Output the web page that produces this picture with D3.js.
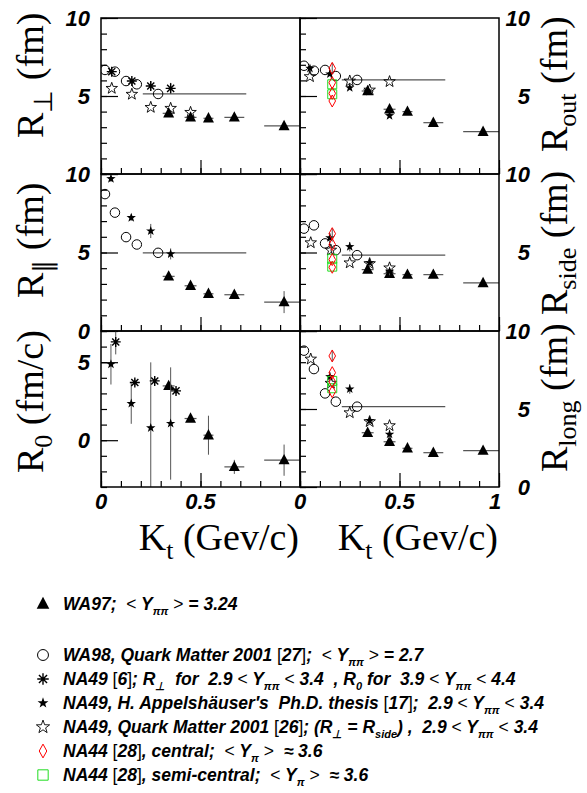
<!DOCTYPE html>
<html>
<head>
<meta charset="utf-8">
<script src="https://cdn.jsdelivr.net/npm/d3@7"></script>
<style>
  body { margin: 0; background: #fff; }
  svg { display: block; }
  text { white-space: pre; }
  .lab { font-family: "Liberation Sans", Arial, sans-serif; font-weight: bold; font-style: italic; font-size: 22px; }
  .ttl { font-family: "Liberation Serif", "Times New Roman", serif; font-size: 38px; }
  .leg { font-family: "Liberation Sans", Arial, sans-serif; font-weight: bold; font-style: italic; font-size: 17.5px; }
</style>
</head>
<body>
<script>
// ---- data ----
// WA97, <Y> = 3.24
var kWA97     = [0.34, 0.45, 0.54, 0.67, 0.92];
var kErrWA97  = [0.03, 0.03, 0.025, 0.05, 0.1];
var wa97Perp  = [3.89, 3.63, 3.57, 3.63, 3.08];
var wa97Par   = [3.48, 2.88, 2.37, 2.31, 1.84];
var wa97ParE  = [0.15, 0.15, 0.15, 0.15, 0.7];
var wa97R0    = [3.48, 1.39, 0.32, -1.71, -1.28];
var wa97R0E   = [0.2, 0.2, 1.25, 0.45, 1.0];
var wa97Out   = [5.32, 4.15, 4.00, 3.29, 2.71];
var wa97Side  = [3.91, 3.65, 3.59, 3.59, 3.06];
var wa97Long  = [3.48, 2.90, 2.48, 2.20, 2.33];

// WA98, QM 2001, last point is a wide kt bin
var kWA98     = [0.02, 0.07, 0.126, 0.18, 0.287];
var kLoWA98   = [null, null, null, null, 0.21];
var kHiWA98   = [null, null, null, null, 0.73];
var wa98Perp  = [6.67, 6.56, 5.96, 5.75, 5.13];
var wa98Par   = [8.72, 7.54, 5.98, 5.51, 4.98];
var wa98Out   = [6.94, 6.62, 6.67, 6.28, 6.03];
var wa98Side  = [6.52, 6.73, 5.58, 5.15, 4.83];
var wa98Long  = [8.74, 7.56, 6.00, 5.47, 5.15];

// NA49 [6] (asterisks)
var kNA49a    = [0.054, 0.155, 0.25, 0.35];
var na49aPerp = [6.56, 5.96, 5.64, 5.49];
var na49aPerpE = [0.2, 0.2, 0.3, 0.35];
var kNA49aR0  = [0.074, 0.17, 0.27, 0.377];
var na49aR0   = [6.3, 3.7, 3.8, 3.16];
var na49aR0E  = [0.8, 0.2, 0.2, 0.2];

// NA49, Appelshauser thesis (filled stars)
var kNA49h     = [0.05, 0.152, 0.25, 0.35];
var na49hPar   = [9.7, 7.22, 6.37, 4.91];
var na49hParE  = [0.2, 0.2, 0.45, 0.35];
var na49hR0    = [4.87, 2.35, 0.79, 1.07];
var na49hR0E   = [1.3, 1.3, 4.2, 3.6];
var kNA49hOut  = [0.05, 0.15, 0.25, 0.34, 0.45];
var na49hOut   = [6.77, 6.41, 5.53, 5.32, 3.74];
var kNA49hSL   = [0.15, 0.25, 0.35, 0.45];
var na49hSide  = [5.94, 5.37, 4.34, 3.80];
var na49hLong  = [7.07, 6.28, 4.25, 3.38];
var na49hSLE   = [0.3, 0.3, 0.25, 0.25];

// NA49, QM 2001 (open stars)
var kNA49q     = [0.054, 0.155, 0.25, 0.35, 0.45];
var na49qPerp  = [5.49, 5.11, 4.27, 4.21, 3.95];
var kNA49qOut  = [0.05, 0.25, 0.35, 0.45];
var na49qOut   = [6.24, 5.96, 5.38, 5.92];
var na49qSide  = [5.62, 5.15, 4.34, 4.29, 4.02];
var na49qLong  = [8.2, 6.65, 4.76, 4.19, 3.93];

// NA44 central (diamonds) and semi-central (squares), all at one kt
var kNA44c     = [0.162, 0.162, 0.162, 0.162];
var na44cOut   = [6.77, 5.85, 5.17, 4.68];
var na44cSide  = [6.2, 5.51, 4.55, 4.06];
var na44cLong  = [8.4, 7.33, 6.75, 6.11];
var na44cE     = [0.35, 0, 0, 0];
var kNA44s     = [0.162, 0.162];
var na44sOut   = [5.75, 5.11];
var na44sSide  = [4.6, 4.1];
var na44sLong  = [6.8, 6.33];

var xTickLabels = [[0, 0.5], [0, 0.5, 1]];

// ---- layout ----
var W = 587, H = 793;
var colX = [[101, 300], [300, 499]];
var rowY = [[18, 174], [174, 331], [331, 487]];

var svg = d3.select("body").append("svg")
    .attr("width", W)
    .attr("height", H);

function markerPath(type, s) {
  var p = d3.path(), i, a, r;
  if (type == "tri") {
    p.moveTo(0, -s * 0.62); p.lineTo(s * 0.55, s * 0.42); p.lineTo(-s * 0.55, s * 0.42); p.closePath();
  } else if (type == "circle") {
    p.moveTo(s * 0.5, 0); p.arc(0, 0, s * 0.5, 0, 2 * Math.PI);
  } else if (type == "star" || type == "ostar") {
    for (i = 0; i < 10; i++) {
      r = (i % 2 == 0) ? s * 0.55 : s * 0.22;
      a = -Math.PI / 2 + i * Math.PI / 5;
      if (i == 0) p.moveTo(r * Math.cos(a), r * Math.sin(a));
      else p.lineTo(r * Math.cos(a), r * Math.sin(a));
    }
    p.closePath();
  } else if (type == "aster") {
    r = s * 0.5;
    for (i = 0; i < 4; i++) {
      a = i * Math.PI / 4;
      p.moveTo(-r * Math.cos(a), -r * Math.sin(a));
      p.lineTo(r * Math.cos(a), r * Math.sin(a));
    }
  } else if (type == "diamond") {
    p.moveTo(0, -s * 0.6); p.lineTo(s * 0.33, 0); p.lineTo(0, s * 0.6); p.lineTo(-s * 0.33, 0); p.closePath();
  } else if (type == "square") {
    p.rect(-s * 0.5, -s * 0.5, s, s);
  }
  return p.toString();
}

var markerStyle = {
  tri:     {fill: "#000", stroke: "none", sw: 0, size: 10},
  circle:  {fill: "none", stroke: "#000", sw: 1, size: 9.5},
  star:    {fill: "#000", stroke: "none", sw: 0, size: 9},
  ostar:   {fill: "none", stroke: "#000", sw: 0.9, size: 11},
  aster:   {fill: "none", stroke: "#000", sw: 1.4, size: 10},
  diamond: {fill: "none", stroke: "#f00", sw: 1, size: 10},
  square:  {fill: "none", stroke: "#2d2", sw: 1, size: 9}
};

function drawMarker(g, type, cx, cy, scale) {
  var st = markerStyle[type];
  g.append("path")
    .attr("d", markerPath(type, st.size * (scale || 1)))
    .attr("transform", "translate(" + cx + "," + cy + ")")
    .attr("fill", st.fill)
    .attr("stroke", st.stroke)
    .attr("stroke-width", st.sw);
}

function drawSeries(g, x, y, s) {
  // error bars first
  s.k.forEach(function(k, i) {
    var v = s.v[i];
    var ey = s.ey ? s.ey[i] : 0;
    if (ey > 0) {
      g.append("line").attr("x1", x(k)).attr("x2", x(k))
        .attr("y1", y(v - ey)).attr("y2", y(v + ey))
        .attr("stroke", "#555").attr("stroke-width", 1);
    }
    var lo = s.kLo ? s.kLo[i] : (s.kErr ? k - s.kErr[i] : null);
    var hi = s.kHi ? s.kHi[i] : (s.kErr ? k + s.kErr[i] : null);
    if (lo != null && hi != null) {
      g.append("line").attr("x1", x(lo)).attr("x2", x(hi))
        .attr("y1", y(v)).attr("y2", y(v))
        .attr("stroke", "#555").attr("stroke-width", 1.2);
    }
  });
  s.k.forEach(function(k, i) {
    drawMarker(g, s.m, x(k), y(s.v[i]));
  });
}

var panels = [
  {col: 0, row: 0, dom: [0, 10], labels: [5, 10], title: ["R", "\u22a5", " (fm)"], tStart: 138,
   series: [
     {m: "tri", k: kWA97, v: wa97Perp, kErr: kErrWA97},
     {m: "circle", k: kWA98, v: wa98Perp, kLo: kLoWA98, kHi: kHiWA98},
     {m: "ostar", k: kNA49q, v: na49qPerp},
     {m: "aster", k: kNA49a, v: na49aPerp, ey: na49aPerpE}
   ]},
  {col: 0, row: 1, dom: [0, 10], labels: [0, 5, 10], title: ["R", "\u2225", " (fm)"], tStart: 298,
   series: [
     {m: "tri", k: kWA97, v: wa97Par, kErr: kErrWA97, ey: wa97ParE},
     {m: "circle", k: kWA98, v: wa98Par, kLo: kLoWA98, kHi: kHiWA98},
     {m: "star", k: kNA49h, v: na49hPar, ey: na49hParE}
   ]},
  {col: 0, row: 2, dom: [-3, 7], labels: [0, 5], title: ["R", "0", " (fm/c)"], tStart: 473,
   series: [
     {m: "tri", k: kWA97, v: wa97R0, kErr: kErrWA97, ey: wa97R0E},
     {m: "star", k: kNA49h, v: na49hR0, ey: na49hR0E},
     {m: "aster", k: kNA49aR0, v: na49aR0, ey: na49aR0E}
   ]},
  {col: 1, row: 0, dom: [0, 10], labels: [5, 10], title: ["R", "out", " (fm)"], tStart: 152,
   series: [
     {m: "tri", k: kWA97, v: wa97Out, kErr: kErrWA97},
     {m: "circle", k: kWA98, v: wa98Out, kLo: kLoWA98, kHi: kHiWA98},
     {m: "ostar", k: kNA49qOut, v: na49qOut},
     {m: "star", k: kNA49hOut, v: na49hOut},
     {m: "square", k: kNA44s, v: na44sOut},
     {m: "diamond", k: kNA44c, v: na44cOut, ey: na44cE}
   ]},
  {col: 1, row: 1, dom: [0, 10], labels: [5, 10], title: ["R", "side", " (fm)"], tStart: 315,
   series: [
     {m: "tri", k: kWA97, v: wa97Side, kErr: kErrWA97},
     {m: "circle", k: kWA98, v: wa98Side, kLo: kLoWA98, kHi: kHiWA98},
     {m: "ostar", k: kNA49q, v: na49qSide},
     {m: "star", k: kNA49hSL, v: na49hSide, ey: na49hSLE},
     {m: "square", k: kNA44s, v: na44sSide},
     {m: "diamond", k: kNA44c, v: na44cSide, ey: na44cE}
   ]},
  {col: 1, row: 2, dom: [0, 10], labels: [0, 5, 10], title: ["R", "long", " (fm)"], tStart: 472,
   series: [
     {m: "tri", k: kWA97, v: wa97Long, kErr: kErrWA97},
     {m: "circle", k: kWA98, v: wa98Long, kLo: kLoWA98, kHi: kHiWA98},
     {m: "ostar", k: kNA49q, v: na49qLong},
     {m: "star", k: kNA49hSL, v: na49hLong, ey: na49hSLE},
     {m: "square", k: kNA44s, v: na44sLong},
     {m: "diamond", k: kNA44c, v: na44cLong, ey: na44cE}
   ]}
];

panels.forEach(function(p, pi) {
  var x = d3.scaleLinear().domain([0, 1]).range(colX[p.col]);
  var y = d3.scaleLinear().domain(p.dom).range([rowY[p.row][1], rowY[p.row][0]]);
  var x0 = colX[p.col][0], x1 = colX[p.col][1];
  var y0 = rowY[p.row][0], y1 = rowY[p.row][1];

  svg.append("clipPath").attr("id", "clip" + pi)
    .append("rect").attr("x", x0).attr("y", y0).attr("width", x1 - x0).attr("height", y1 - y0);

  // minor / major ticks on the left side, pointing in
  var minorY = d3.range(p.dom[0], p.dom[1] + 1);
  var majorY = minorY.filter(function(d) { return d % 5 == 0; });
  svg.append("g").attr("transform", "translate(" + x0 + ",0)")
    .call(d3.axisRight(y).tickValues(minorY).tickSize(6).tickFormat(""))
    .call(function(g) { g.select(".domain").remove(); });
  svg.append("g").attr("transform", "translate(" + x0 + ",0)")
    .call(d3.axisRight(y).tickValues(majorY).tickSize(17).tickFormat(""))
    .call(function(g) { g.select(".domain").remove(); });

  // ticks on bottom, pointing up
  svg.append("g").attr("transform", "translate(0," + y1 + ")")
    .call(d3.axisTop(x).tickValues(d3.range(0, 1.001, 0.1)).tickSize(6).tickFormat(""))
    .call(function(g) { g.select(".domain").remove(); });
  svg.append("g").attr("transform", "translate(0," + y1 + ")")
    .call(d3.axisTop(x).tickValues([0, 0.5, 1]).tickSize(14).tickFormat(""))
    .call(function(g) { g.select(".domain").remove(); });
  svg.selectAll(".tick line").attr("stroke", "#000").attr("stroke-width", 1.2);

  // y tick labels
  svg.selectAll(null).data(p.labels).enter().append("text")
    .attr("class", "lab")
    .attr("x", p.col == 0 ? 90 : 530)
    .attr("y", function(d) { return y(d); })
    .attr("dy", "0.36em")
    .attr("text-anchor", "end")
    .text(function(d) { return d; });

  // data
  var g = svg.append("g").attr("clip-path", "url(#clip" + pi + ")");
  p.series.forEach(function(s) { drawSeries(g, x, y, s); });

  // frame
  svg.append("rect")
    .attr("x", x0).attr("y", y0).attr("width", x1 - x0).attr("height", y1 - y0)
    .attr("fill", "none").attr("stroke", "#000").attr("stroke-width", 1.5);

  // axis title, rotated
  var bx = p.col == 0 ? 43 : 567;
  var t = svg.append("text").attr("class", "ttl")
    .attr("transform", "translate(" + bx + "," + p.tStart + ") rotate(-90)");
  t.append("tspan").text(p.title[0]);
  t.append("tspan").attr("dy", 9).style("font-size", "26px").text(p.title[1]);
  t.append("tspan").attr("dy", -9).text(p.title[2]);

  // x labels + title on bottom row
  if (p.row == 2) {
    svg.selectAll(null).data(xTickLabels[p.col]).enter().append("text")
      .attr("class", "lab")
      .attr("x", function(d) { return x(d) - (d == 1 ? 4 : 0); })
      .attr("y", 509)
      .attr("text-anchor", "middle")
      .text(function(d) { return d; });
    var kt = svg.append("text").attr("class", "ttl")
      .attr("x", x1 - 1).attr("y", 550).attr("text-anchor", "end");
    kt.append("tspan").text("K");
    kt.append("tspan").attr("dy", 9).style("font-size", "26px").text("t");
    kt.append("tspan").attr("dy", -9).text(" (Gev/c)");
  }
});

// ---- legend ----
var legendRows = [
  {m: "tri", y: 604, segs: [{t: "WA97;  "}, {t: "<", s: 1}, {t: " Y"}, {t: "\u03c0\u03c0", b: 1}, {t: " "}, {t: ">", s: 1}, {t: " = 3.24"}]},
  {m: "circle", y: 655, segs: [{t: "WA98, Quark Matter 2001 "}, {t: "[", s: 1}, {t: "27"}, {t: "]", s: 1}, {t: ";  "}, {t: "<", s: 1}, {t: " Y"}, {t: "\u03c0\u03c0", b: 1}, {t: " "}, {t: ">", s: 1}, {t: " = 2.7"}]},
  {m: "aster", y: 679, segs: [{t: "NA49 "}, {t: "[", s: 1}, {t: "6"}, {t: "]", s: 1}, {t: "; R"}, {t: "\u22a5", b: 1}, {t: "  for  2.9 "}, {t: "<", s: 1}, {t: " Y"}, {t: "\u03c0\u03c0", b: 1}, {t: " "}, {t: "<", s: 1}, {t: " 3.4  , R"}, {t: "0", b: 1}, {t: " for  3.9 "}, {t: "<", s: 1}, {t: " Y"}, {t: "\u03c0\u03c0", b: 1}, {t: " "}, {t: "<", s: 1}, {t: " 4.4"}]},
  {m: "star", y: 703, segs: [{t: "NA49, H. Appelsh\u00e4user\u2032s  Ph.D. thesis "}, {t: "[", s: 1}, {t: "17"}, {t: "]", s: 1}, {t: ";  2.9 "}, {t: "<", s: 1}, {t: " Y"}, {t: "\u03c0\u03c0", b: 1}, {t: " "}, {t: "<", s: 1}, {t: " 3.4"}]},
  {m: "ostar", y: 727, segs: [{t: "NA49, Quark Matter 2001 "}, {t: "[", s: 1}, {t: "26"}, {t: "]", s: 1}, {t: "; (R"}, {t: "\u22a5", b: 1}, {t: " = R"}, {t: "side", b: 1}, {t: ") ,  2.9 "}, {t: "<", s: 1}, {t: " Y"}, {t: "\u03c0\u03c0", b: 1}, {t: " "}, {t: "<", s: 1}, {t: " 3.4"}]},
  {m: "diamond", y: 751, segs: [{t: "NA44 "}, {t: "[", s: 1}, {t: "28"}, {t: "]", s: 1}, {t: ", central;  "}, {t: "<", s: 1}, {t: " Y"}, {t: "\u03c0", b: 1}, {t: " "}, {t: ">", s: 1}, {t: "  \u2248 3.6"}]},
  {m: "square", y: 775, segs: [{t: "NA44 "}, {t: "[", s: 1}, {t: "28"}, {t: "]", s: 1}, {t: ", semi-central;  "}, {t: "<", s: 1}, {t: " Y"}, {t: "\u03c0", b: 1}, {t: " "}, {t: ">", s: 1}, {t: "  \u2248 3.6"}]}
];

var leg = svg.append("g");
legendRows.forEach(function(r) {
  drawMarker(leg, r.m, 43, r.y, 1.15);
  var t = leg.append("text").attr("class", "leg").attr("x", 63).attr("y", r.y + 6);
  var shift = 0;
  r.segs.forEach(function(s) {
    var ts = t.append("tspan").text(s.t);
    var want = s.b ? 4.5 : 0;
    if (want != shift) { ts.attr("dy", want - shift); shift = want; }
    if (s.b) ts.style("font-size", "11px");
    if (s.s) ts.style("font-weight", "normal").style("font-style", "normal");
  });
});
</script>
</body>
</html>
